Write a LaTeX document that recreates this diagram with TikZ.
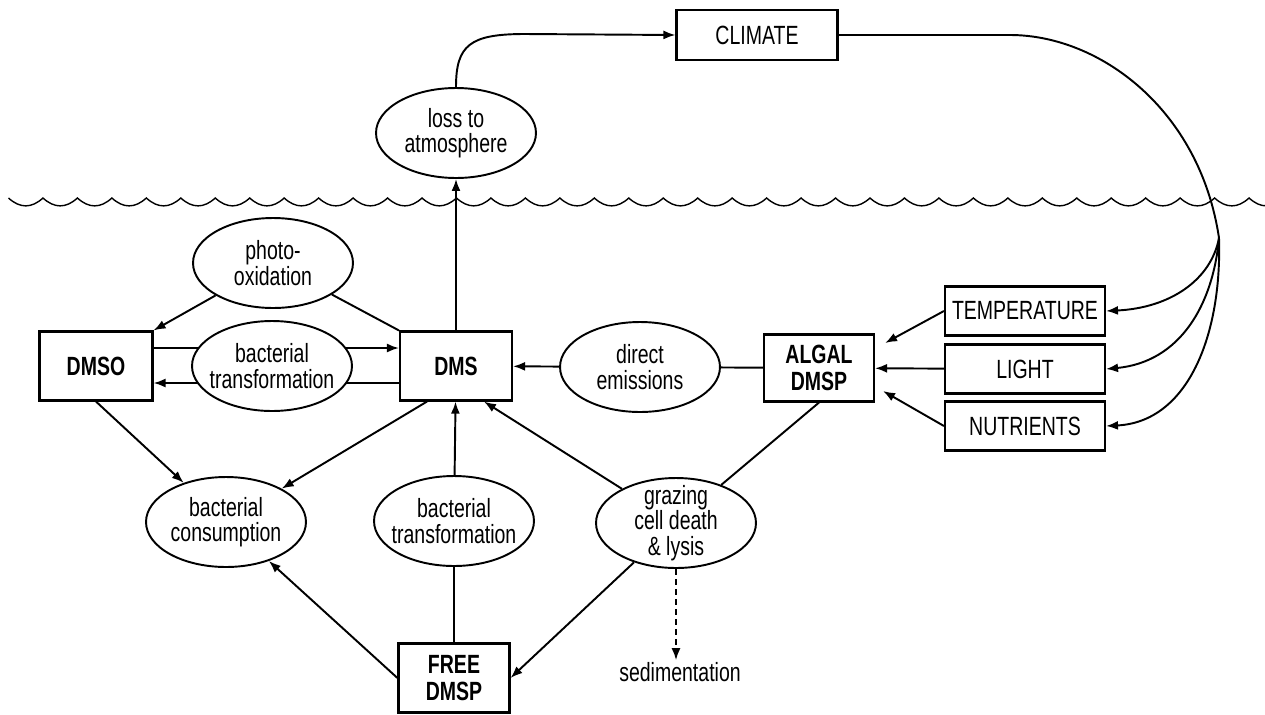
\documentclass[tikz,border=0pt]{standalone}
\usepackage{fontspec}
\setmainfont{Liberation Sans}[FakeStretch=0.74]
\usetikzlibrary{shapes.geometric,arrows.meta}
\pgfdeclarelayer{background}
\pgfsetlayers{background,main}
\tikzset{
  every node/.style={font=\fontsize{15}{14.5}\selectfont, align=center},
  factor/.style={draw, line width=1.2pt, minimum width=3.2cm, minimum height=0.98cm, inner sep=0pt},
  pool/.style={factor, font=\fontsize{15}{15.5}\selectfont\bfseries,
               minimum width=2.24cm, minimum height=1.38cm},
  process/.style={draw, ellipse, line width=1.1pt, fill=white, minimum width=3.2cm,
                  minimum height=1.8cm, inner xsep=-0.3cm, inner ysep=-0.16cm},
  link/.style={line width=1.1pt},
  flow/.style={link, -{Latex[length=0.24cm,width=0.18cm]}},
  wave/.style={line width=0.8pt},
}

\begin{document}
\begin{tikzpicture}[x=0.02cm, y=-0.02cm]
    \useasboundingbox (0,0) rectangle (1265,714);
    % above the surface
    \node[factor, minimum width=3.22cm, minimum height=1cm] (climate) at (757,35) {CLIMATE};
    \node[process] (loss) at (456,133) {loss to\\atmosphere};
    % sea surface
    \draw[wave] (8.5,198) \foreach \i in {0,...,36} {
      .. controls ({8.5+34.46*\i+11.5},208.5) and ({8.5+34.46*\i+23},208.5) .. ({8.5+34.46*(\i+1)},198)};
    % sulphur pools
    \node[pool, minimum width=2.26cm] (dmso) at (96,366) {DMSO};
    \node[pool] (dms) at (456,366) {DMS};
    \node[pool, minimum width=2.2cm, minimum height=1.34cm] (algal) at (819,368) {ALGAL\\DMSP};
    \node[pool, minimum width=2.22cm] (free) at (454,678) {FREE\\DMSP};
    % processes
    \node[process] (photo) at (273,263) {photo-\\oxidation};
    \node[process] (btrans) at (272,366) {bacterial\\transformation};
    \node[process] (direct) at (640,367) {direct\\emissions};
    \node[process] (bcons) at (226,522) {bacterial\\consumption};
    \node[process] (btrans2) at (454,521) {bacterial\\transformation};
    \node[process] (graze) at (676,523) {grazing\\cell death\\\& lysis};
    \node[inner sep=1pt] (sed) at (680,672) {sedimentation};
    % physical factors
    \node[factor] (temp) at (1025,311) {TEMPERATURE};
    \node[factor] (light) at (1025,369) {LIGHT};
    \node[factor] (nutr) at (1025,426) {NUTRIENTS};
    \coordinate (fan) at (1219,238);

    \begin{pgfonlayer}{background}
      % climate feedback loop
      \draw[flow] (loss.north) .. controls (456,45) and (470,34) .. (525,34) -- (climate.west);
      \draw[link] (climate.east) -- (1010,35) .. controls (1100,35) and (1200,110) .. (fan);
      \draw[flow] (fan) .. controls (1211,280) and (1170,308) .. (temp.east);
      \draw[flow] (fan) .. controls (1213,305) and (1180,362) .. (light.east);
      \draw[flow] (fan) .. controls (1222,335) and (1188,422) .. (nutr.east);
      \draw[flow] (temp.west) -- ([shift={(0.2cm,0.5cm)}]algal.east);
      \draw[flow] (light) -- (algal);
      \draw[flow] (nutr.west) -- ([shift={(0.16cm,-0.46cm)}]algal.east);
      % DMS budget
      \draw[flow] (dms) -- (loss);
      \draw[flow] (photo) -- (dmso.north east);
      \draw[link] (photo) -- (dms.north west);
      \draw[flow] (dmso.east |- 0,348) -- (dms.west |- 0,348);
      \draw[flow] (dms.west |- 0,383) -- (dmso.east |- 0,383);
      \draw[flow] (direct) -- (dms);
      \draw[link] (algal) -- (direct);
      \draw[flow] (dmso.south) -- (bcons);
      \draw[flow] ([xshift=-0.58cm]dms.south) -- (bcons);
      \draw[flow] (free.west) -- (bcons);
      \draw[flow] (btrans2) -- (dms);
      \draw[link] (btrans2) -- (free);
      \draw[flow] (graze) -- ([xshift=0.56cm]dms.south);
      \draw[link] (graze) -- (algal.south);
      \draw[flow] (graze) -- (free.east);
      \draw[flow, dash pattern=on 0.12cm off 0.08cm] (graze.south) -- (graze.south |- sed.north);
    \end{pgfonlayer}
\end{tikzpicture}
\end{document}
